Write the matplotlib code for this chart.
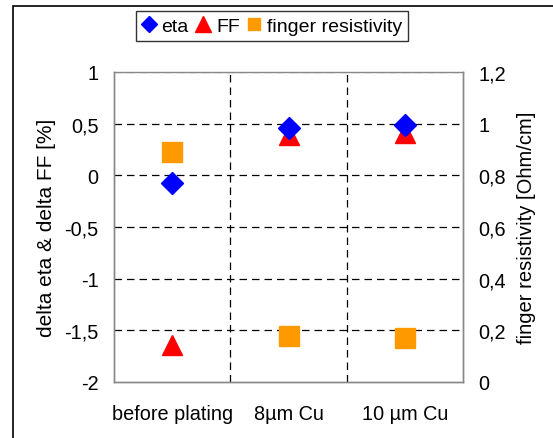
import matplotlib
matplotlib.use('Agg')
import matplotlib.pyplot as plt
from matplotlib.lines import Line2D
from matplotlib.patches import Rectangle
from matplotlib.ticker import FuncFormatter

categories = ['before plating', '8µm Cu', '10 µm Cu']
eta = [-0.07, 0.46, 0.49]
ff = [-1.64, 0.39, 0.41]
finger_res = [0.89, 0.18, 0.17]

left_ticks = [-2, -1.5, -1, -0.5, 0, 0.5, 1]
right_ticks = [0, 0.2, 0.4, 0.6, 0.8, 1.0, 1.2]

plt.rcParams['font.family'] = ['Liberation Sans', 'DejaVu Sans']
plt.rcParams['font.size'] = 14.3


def comma(v, pos=None):
    s = f'{v:g}'
    return s.replace('.', ',')


fig = plt.figure(figsize=(5.53, 4.39), dpi=100)
ax = fig.add_axes([114 / 553, 1 - 383 / 439, (463 - 114) / 553, (383 - 73) / 439])
ax2 = ax.twinx()

x = [1, 2, 3]
ax.plot(x, eta, linestyle='none', marker='D', color='#0000ff', markersize=11, zorder=4)
ax.plot(x, ff, linestyle='none', marker='^', color='#ff0000', markersize=15, zorder=3)
ax2.plot(x, finger_res, linestyle='none', marker='s', color='#ff9900', markersize=15, zorder=3)

ax.set_xlim(0.5, 3.5)
ax.set_ylim(-2, 1)
ax2.set_ylim(0, 1.2)
ax.set_yticks(left_ticks)
ax2.set_yticks(right_ticks)
ax.yaxis.set_major_formatter(FuncFormatter(comma))
ax2.yaxis.set_major_formatter(FuncFormatter(comma))
ax.set_xticks(x)
ax.set_xticklabels(categories)
ax.tick_params(axis='x', length=0, pad=16)
ax.tick_params(axis='y', length=0, pad=11)
ax2.tick_params(axis='y', length=0, pad=11)

# grid lines
for v in left_ticks[1:-1]:
    ax.axhline(v, color='black', linestyle=(0, (6, 4)), linewidth=0.9, zorder=1)
for v in [1.5, 2.5]:
    ax.axvline(v, color='black', linestyle=(0, (6, 4)), linewidth=0.9, zorder=1)
ax.axhline(1, color='#888888', linestyle=(0, (6, 4)), linewidth=0.9, zorder=1)

for a in (ax, ax2):
    for sp in a.spines.values():
        sp.set_color('#888888')
        sp.set_linewidth(1)
ax2.spines['top'].set_visible(False)

ax.set_ylabel('delta eta & delta FF [%]', labelpad=6, fontsize=15)
ax2.set_ylabel('finger resistivity [Ohm/cm]', labelpad=8, fontsize=14.5)

handles = [
    Line2D([], [], linestyle='none', marker='D', color='#0000ff', markersize=8),
    Line2D([], [], linestyle='none', marker='^', color='#ff0000', markersize=11),
    Line2D([], [], linestyle='none', marker='s', color='#ff9900', markersize=9),
]
fig.legend(handles, ['eta', 'FF', 'finger resistivity'], loc='center',
           bbox_to_anchor=(272 / 553, 1 - 27 / 439), ncol=3, frameon=True,
           fancybox=False, edgecolor='black', handlelength=0.7, handletextpad=0.3,
           columnspacing=0.4, borderpad=0.3, fontsize=14)

fig.patches.append(Rectangle((13 / 553, -0.1), 1.2, 1 - 7 / 439 + 0.1,
                             transform=fig.transFigure, fill=False,
                             edgecolor='black', linewidth=1.2, clip_on=False))

fig.savefig('out.png', dpi=100)
